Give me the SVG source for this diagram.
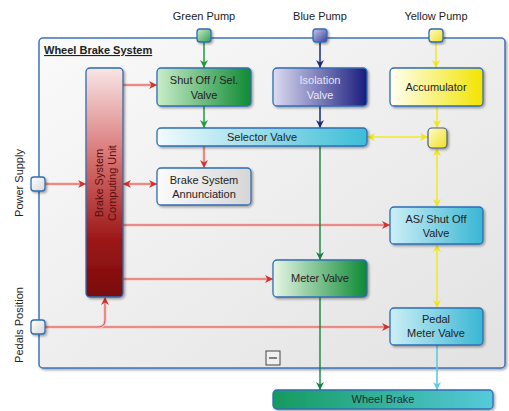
<svg xmlns="http://www.w3.org/2000/svg" width="509" height="411" viewBox="0 0 509 411">
<defs>
<style>
text{font-family:"Liberation Sans",Arial,sans-serif;font-size:11px;fill:#222;}
.t{text-anchor:middle;}
.box{stroke:#2f6db5;stroke-width:1.3;filter:url(#sh);}
.port{stroke:#2f6db5;stroke-width:1.3;filter:url(#sh);}
.halo{fill:none;stroke:#f6c6c3;stroke-width:3;}
.red{fill:none;stroke:#d8453f;stroke-width:0.9;}
.grn{fill:none;stroke:#1f9a3c;stroke-width:1.5;}
.dgrn{fill:none;stroke:#17803f;stroke-width:1.4;}
.navy{fill:none;stroke:#1c2a78;stroke-width:1.5;}
.yel{fill:none;stroke:#f2ea2a;stroke-width:1.6;}
.cyan{fill:none;stroke:#5ccbe0;stroke-width:1.6;}
</style>
<filter id="sh" x="-20%" y="-20%" width="150%" height="150%">
<feDropShadow dx="1.5" dy="1.5" stdDeviation="1.3" flood-color="#000" flood-opacity="0.35"/>
</filter>
<linearGradient id="gCont" x1="0" y1="0" x2="1" y2="1"><stop offset="0" stop-color="#fafafa"/><stop offset="1" stop-color="#e2e2e2"/></linearGradient>
<linearGradient id="gGreen" x1="0" y1="0" x2="1" y2="0"><stop offset="0" stop-color="#c9edc9"/><stop offset="1" stop-color="#0f8a34"/></linearGradient>
<linearGradient id="gMeter" x1="0" y1="0" x2="1" y2="0"><stop offset="0" stop-color="#e8f6e6"/><stop offset="1" stop-color="#0c8a34"/></linearGradient>
<linearGradient id="gBlue" x1="0" y1="0" x2="1" y2="0"><stop offset="0" stop-color="#dcdcf2"/><stop offset="1" stop-color="#1a1c7e"/></linearGradient>
<linearGradient id="gYel" x1="0" y1="0" x2="1" y2="0"><stop offset="0" stop-color="#fffff2"/><stop offset="1" stop-color="#f2e400"/></linearGradient>
<linearGradient id="gSel" x1="0" y1="0" x2="1" y2="0"><stop offset="0" stop-color="#f2fbfd"/><stop offset="1" stop-color="#3cbdd6"/></linearGradient>
<linearGradient id="gCyan" x1="0" y1="0" x2="1" y2="0"><stop offset="0" stop-color="#cdeff6"/><stop offset="1" stop-color="#38b6d4"/></linearGradient>
<linearGradient id="gGrey" x1="0" y1="0" x2="1" y2="0"><stop offset="0" stop-color="#fbfbfb"/><stop offset="1" stop-color="#d6d6d6"/></linearGradient>
<linearGradient id="gWheel" x1="0" y1="0" x2="1" y2="0"><stop offset="0" stop-color="#169a5e"/><stop offset="1" stop-color="#55cadb"/></linearGradient>
<linearGradient id="gBscu" x1="0" y1="0" x2="0" y2="1"><stop offset="0" stop-color="#f9e6e6"/><stop offset="0.4" stop-color="#d77070"/><stop offset="0.75" stop-color="#9c1818"/><stop offset="1" stop-color="#7a0a0a"/></linearGradient>
<linearGradient id="gPortG" x1="0" y1="0" x2="1" y2="1"><stop offset="0" stop-color="#cdeccd"/><stop offset="1" stop-color="#2c9e4c"/></linearGradient>
<linearGradient id="gPortB" x1="0" y1="0" x2="1" y2="1"><stop offset="0" stop-color="#c8c8ea"/><stop offset="1" stop-color="#3a3e9a"/></linearGradient>
<linearGradient id="gPortY" x1="0" y1="0" x2="1" y2="1"><stop offset="0" stop-color="#fffbd0"/><stop offset="1" stop-color="#f0e020"/></linearGradient>
<linearGradient id="gPortW" x1="0" y1="0" x2="1" y2="1"><stop offset="0" stop-color="#ffffff"/><stop offset="1" stop-color="#d8d8d8"/></linearGradient>
<marker id="aR" viewBox="0 0 10 10" refX="10" refY="5" markerWidth="9" markerHeight="8" markerUnits="userSpaceOnUse" orient="auto-start-reverse"><path d="M0,0 L10,5 L0,10 L3,5 z" fill="#d2312c"/></marker>
<marker id="aG" viewBox="0 0 10 10" refX="10" refY="5" markerWidth="9" markerHeight="8" markerUnits="userSpaceOnUse" orient="auto-start-reverse"><path d="M0,0 L10,5 L0,10 L3,5 z" fill="#1f9a3c"/></marker>
<marker id="aDG" viewBox="0 0 10 10" refX="10" refY="5" markerWidth="9" markerHeight="8" markerUnits="userSpaceOnUse" orient="auto-start-reverse"><path d="M0,0 L10,5 L0,10 L3,5 z" fill="#17803f"/></marker>
<marker id="aN" viewBox="0 0 10 10" refX="10" refY="5" markerWidth="9" markerHeight="8" markerUnits="userSpaceOnUse" orient="auto-start-reverse"><path d="M0,0 L10,5 L0,10 L3,5 z" fill="#1c2a78"/></marker>
<marker id="aY" viewBox="0 0 10 10" refX="10" refY="5" markerWidth="9" markerHeight="8" markerUnits="userSpaceOnUse" orient="auto-start-reverse"><path d="M0,0 L10,5 L0,10 L3,5 z" fill="#efe420"/></marker>
<marker id="aC" viewBox="0 0 10 10" refX="10" refY="5" markerWidth="9" markerHeight="8" markerUnits="userSpaceOnUse" orient="auto-start-reverse"><path d="M0,0 L10,5 L0,10 L3,5 z" fill="#5ccbe0"/></marker>
</defs>
<rect width="509" height="411" fill="#ffffff"/>

<g id="container">
<rect x="39" y="38" width="466" height="330" rx="4" fill="url(#gCont)" stroke="#3f74b8" stroke-width="1.5" filter="url(#sh)"/>
<text x="44" y="54" style="font-weight:bold;text-decoration:underline;">Wheel Brake System</text>
<rect x="266" y="351" width="14" height="14" fill="#f0f0f0" stroke="#444" stroke-width="1"/>
<line x1="269" y1="358" x2="277" y2="358" stroke="#333" stroke-width="1.2"/>
</g>

<g id="connectors">
<!-- red -->
<path class="halo" d="M123,85 H155"/><path class="red" d="M123,85 H157" marker-end="url(#aR)"/>
<path class="halo" d="M45,184 H84"/><path class="red" d="M45,184 H86" marker-end="url(#aR)"/>
<path class="halo" d="M125,184 H155"/><path class="red" d="M123,184 H157" marker-start="url(#aR)" marker-end="url(#aR)"/>
<path class="halo" d="M204,146 V166"/><path class="red" d="M204,146 V168" marker-end="url(#aR)"/>
<path class="halo" d="M123,225 H388"/><path class="red" d="M123,225 H390" marker-end="url(#aR)"/>
<path class="halo" d="M123,279 H271"/><path class="red" d="M123,279 H273" marker-end="url(#aR)"/>
<path class="halo" d="M45,327 H388"/><path class="red" d="M45,327 H390" marker-end="url(#aR)"/>
<path class="halo" d="M98,327 Q105,327 105,320 V300"/><path class="red" d="M98,327 Q105,327 105,320 V297" marker-end="url(#aR)"/>
<!-- green -->
<path class="grn" d="M204,42 V68" marker-end="url(#aG)"/>
<path class="grn" d="M204,106 V128" marker-end="url(#aG)"/>
<path class="dgrn" d="M320,146 V260" marker-end="url(#aDG)"/>
<path class="dgrn" d="M320,297 V390" marker-end="url(#aDG)"/>
<!-- blue -->
<path class="navy" d="M320,42 V68" marker-end="url(#aN)"/>
<path class="navy" d="M320,106 V128" marker-end="url(#aN)"/>
<!-- yellow -->
<path class="yel" d="M436,42 V68" marker-end="url(#aY)"/>
<path class="yel" d="M437,106 V128" marker-end="url(#aY)"/>
<path class="yel" d="M367,137 H428" marker-start="url(#aY)" marker-end="url(#aY)"/>
<path class="yel" d="M437,148 V207" marker-start="url(#aY)" marker-end="url(#aY)"/>
<path class="yel" d="M437,244 V308" marker-start="url(#aY)" marker-end="url(#aY)"/>
<!-- cyan -->
<path class="cyan" d="M437,345 V390" marker-end="url(#aC)"/>
</g>

<g id="green-pump">
<rect class="port" x="197" y="29" width="14" height="13" rx="3" fill="url(#gPortG)"/>
<text class="t" x="204" y="20">Green Pump</text>
</g>
<g id="blue-pump">
<rect class="port" x="313" y="29" width="14" height="13" rx="3" fill="url(#gPortB)"/>
<text class="t" x="320" y="20">Blue Pump</text>
</g>
<g id="yellow-pump">
<rect class="port" x="429" y="29" width="14" height="13" rx="3" fill="url(#gPortY)"/>
<text class="t" x="436" y="20">Yellow Pump</text>
</g>
<g id="power-supply">
<rect class="port" x="31" y="177" width="14" height="14" rx="3" fill="url(#gPortW)"/>
<text class="t" transform="translate(23,183) rotate(-90)">Power Supply</text>
</g>
<g id="pedals-position">
<rect class="port" x="31" y="320" width="14" height="14" rx="3" fill="url(#gPortW)"/>
<text class="t" transform="translate(23,325) rotate(-90)">Pedals Position</text>
</g>

<g id="bscu">
<rect class="box" x="86" y="68" width="37" height="229" rx="4" fill="url(#gBscu)"/>
<text class="t" transform="translate(103,183) rotate(-90)" style="fill:#5a0d0d;"><tspan x="0" y="0">Brake System</tspan><tspan x="0" y="13">Computing Unit</tspan></text>
</g>
<g id="shutoff-sel-valve">
<rect class="box" x="157" y="68" width="94" height="38" rx="4" fill="url(#gGreen)"/>
<text class="t" x="204" y="84">Shut Off / Sel.</text>
<text class="t" x="204" y="99">Valve</text>
</g>
<g id="isolation-valve">
<rect class="box" x="273" y="68" width="94" height="38" rx="4" fill="url(#gBlue)"/>
<text class="t" x="320" y="84" style="fill:#e6e6f4;">Isolation</text>
<text class="t" x="320" y="99" style="fill:#e6e6f4;">Valve</text>
</g>
<g id="accumulator">
<rect class="box" x="390" y="68" width="93" height="38" rx="4" fill="url(#gYel)"/>
<text class="t" x="436" y="91">Accumulator</text>
</g>
<g id="selector-valve">
<rect class="box" x="157" y="128" width="210" height="18" rx="4" fill="url(#gSel)"/>
<text class="t" x="262" y="141">Selector Valve</text>
</g>
<g id="yellow-junction">
<rect x="428" y="128" width="19" height="20" rx="4" fill="url(#gPortY)" stroke="#4a5a80" stroke-width="1.2" filter="url(#sh)"/>
</g>
<g id="annunciation">
<rect class="box" x="157" y="168" width="94" height="37" rx="4" fill="url(#gGrey)"/>
<text class="t" x="204" y="184">Brake System</text>
<text class="t" x="204" y="198">Annunciation</text>
</g>
<g id="as-shutoff-valve">
<rect class="box" x="390" y="207" width="93" height="37" rx="4" fill="url(#gCyan)"/>
<text class="t" x="436" y="223">AS/ Shut Off</text>
<text class="t" x="436" y="237">Valve</text>
</g>
<g id="meter-valve">
<rect class="box" x="273" y="260" width="94" height="37" rx="4" fill="url(#gMeter)"/>
<text class="t" x="320" y="282">Meter Valve</text>
</g>
<g id="pedal-meter-valve">
<rect class="box" x="390" y="308" width="93" height="37" rx="4" fill="url(#gCyan)"/>
<text class="t" x="436" y="323">Pedal</text>
<text class="t" x="436" y="337">Meter Valve</text>
</g>
<g id="wheel-brake">
<rect class="box" x="273" y="390" width="220" height="19" rx="4" fill="url(#gWheel)"/>
<text class="t" x="383" y="403" style="fill:#1d2e28;">Wheel Brake</text>
</g>
</svg>
